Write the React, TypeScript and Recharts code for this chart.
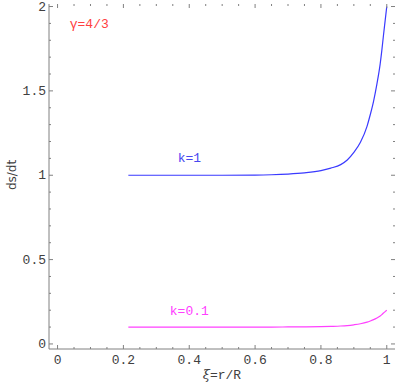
import { Line, LineChart, XAxis, YAxis, ReferenceDot } from "recharts";

if (typeof document !== "undefined") document.body.style.margin = "0";

// values
const xi = [0.215, 0.3, 0.4, 0.5, 0.6, 0.65, 0.7, 0.75, 0.8, 0.83, 0.86, 0.88, 0.9, 0.92, 0.94, 0.95, 0.96, 0.97, 0.98, 0.985, 0.99, 0.995, 1.0];
const k1 = [1.0, 1.0, 1.0, 1.0, 1.001, 1.003, 1.007, 1.014, 1.027, 1.042, 1.063, 1.09, 1.135, 1.195, 1.29, 1.36, 1.44, 1.54, 1.66, 1.74, 1.83, 1.915, 2.0];
const k01 = [0.1, 0.1, 0.1, 0.1, 0.1, 0.1, 0.1007, 0.1014, 0.1027, 0.1042, 0.1063, 0.109, 0.1135, 0.1195, 0.129, 0.136, 0.144, 0.154, 0.166, 0.174, 0.183, 0.1915, 0.2];

const xTicks = [0, 0.05, 0.1, 0.15, 0.2, 0.25, 0.3, 0.35, 0.4, 0.45, 0.5, 0.55, 0.6, 0.65, 0.7, 0.75, 0.8, 0.85, 0.9, 0.95, 1];
const xLabels = ["0", "0.2", "0.4", "0.6", "0.8", "1"];
const yTicks = [0, 0.1, 0.2, 0.3, 0.4, 0.5, 0.6, 0.7, 0.8, 0.9, 1, 1.1, 1.2, 1.3, 1.4, 1.5, 1.6, 1.7, 1.8, 1.9, 2];
const yLabels = ["0", "0.5", "1", "1.5", "2"];

const notes = [
  { x: 0.037, y: 1.897, text: "γ=4/3", color: "#ff4040" },
  { x: 0.365, y: 1.1, text: "k=1", color: "#4848f0" },
  { x: 0.341, y: 0.196, text: "k=0.1", color: "#ff40ff" },
];

const data = xi.map((x, i) => ({ x, k1: k1[i], k01: k01[i] }));

const W = 397;
const H = 384;
const LEFT = 49;
const TOP = 4;
const RIGHT = 395;
const BOTTOM = 349;
const frame = "#808080";
const mono = "'Liberation Mono', monospace";

const fmt = (v: number) => String(Math.round(v * 100) / 100);

function XTick(props: any) {
  const { x, payload } = props;
  const v = payload.value as number;
  const label = fmt(v);
  const major = xLabels.includes(label);
  const len = major ? 4 : 2;
  return (
    <g>
      <line x1={x} x2={x} y1={BOTTOM} y2={BOTTOM - len} stroke={frame} />
      <line x1={x} x2={x} y1={TOP} y2={TOP + len} stroke={frame} />
      {major && (
        <text x={x} y={BOTTOM + 15} textAnchor="middle" fontFamily={mono} fontSize={13} fill="#404040">
          {label}
        </text>
      )}
    </g>
  );
}

function YTick(props: any) {
  const { y, payload } = props;
  const v = payload.value as number;
  const label = fmt(v);
  const major = yLabels.includes(label);
  const len = major ? 4 : 2;
  return (
    <g>
      <line x1={LEFT} x2={LEFT + len} y1={y} y2={y} stroke={frame} />
      <line x1={RIGHT} x2={RIGHT - len} y1={y} y2={y} stroke={frame} />
      {major && (
        <text x={LEFT - 3} y={y + 4} textAnchor="end" fontFamily={mono} fontSize={13} fill="#404040">
          {label}
        </text>
      )}
    </g>
  );
}

export default function App() {
  return (
    <LineChart
      width={W}
      height={H}
      data={data}
      margin={{ top: TOP, right: W - RIGHT, bottom: 0, left: 0 }}
    >
      <XAxis
        dataKey="x"
        type="number"
        domain={[-0.026, 1.025]}
        ticks={xTicks}
        interval={0}
        allowDataOverflow
        height={H - BOTTOM}
        tickLine={false}
        axisLine={{ stroke: frame }}
        tick={<XTick />}
      />
      <XAxis
        xAxisId="top"
        dataKey="x"
        type="number"
        orientation="top"
        domain={[-0.026, 1.025]}
        height={0}
        tick={false}
        tickLine={false}
        axisLine={{ stroke: frame }}
      />
      <YAxis
        type="number"
        domain={[-0.03, 2.015]}
        ticks={yTicks}
        interval={0}
        allowDataOverflow
        width={LEFT}
        tickLine={false}
        axisLine={{ stroke: frame }}
        tick={<YTick />}
      />
      <YAxis
        yAxisId="right"
        orientation="right"
        type="number"
        domain={[-0.03, 2.015]}
        width={0}
        tick={false}
        tickLine={false}
        axisLine={{ stroke: frame }}
      />
      <Line dataKey="k1" type="monotone" stroke="#3a3aff" strokeWidth={1.2} dot={false} isAnimationActive={false} />
      <Line dataKey="k01" type="monotone" stroke="#ff40ff" strokeWidth={1.2} dot={false} isAnimationActive={false} />
      {notes.map((n) => (
        <ReferenceDot
          key={n.text}
          x={n.x}
          y={n.y}
          r={0}
          fill="none"
          stroke="none"
          label={(p: any) => (
            <text x={p.viewBox.x} y={p.viewBox.y + 4} fontFamily={mono} fontSize={13} fill={n.color}>
              {n.text}
            </text>
          )}
        />
      ))}
      <text x={12} y={175} transform="rotate(-90 12 175)" textAnchor="middle" dominantBaseline="central" fontFamily="'DejaVu Sans', sans-serif" fontSize={12} fill="#404040">
        ds/dt
      </text>
      <text x={222} y={379} textAnchor="middle" fontFamily={mono} fontSize={13} fill="#404040">
        <tspan fontFamily="'DejaVu Serif', serif" fontStyle="italic">ξ</tspan>=r/R
      </text>
    </LineChart>
  );
}
